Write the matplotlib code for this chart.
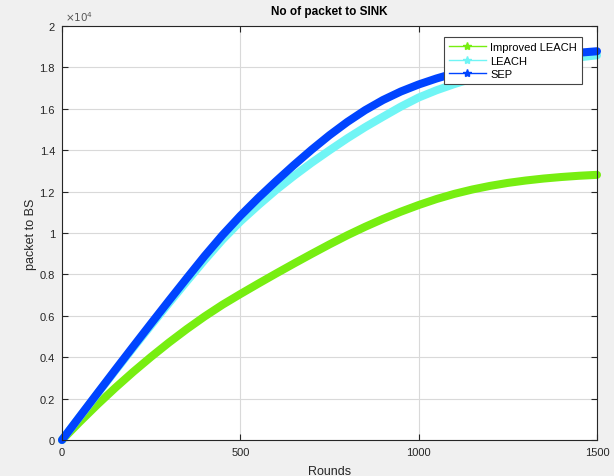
import matplotlib.pyplot as plt
from matplotlib.lines import Line2D
from matplotlib.ticker import FuncFormatter

plt.rcParams['font.family'] = ['Liberation Sans', 'DejaVu Sans']

# valeurs (tous les 50 rounds)
rounds = list(range(0, 1501, 50))
improved_leach = [0, 880, 1725, 2530, 3295, 4020, 4710, 5360, 5970, 6535, 7050,
                  7550, 8040, 8520, 8990, 9450, 9890, 10300, 10680, 11030, 11350,
                  11640, 11890, 12100, 12275, 12420, 12535, 12630, 12705, 12765, 12810]
leach = [0, 1130, 2250, 3360, 4460, 5545, 6615, 7665, 8695, 9675, 10555,
         11335, 12075, 12755, 13395, 13995, 14575, 15115, 15615, 16105, 16545,
         16895, 17195, 17460, 17695, 17900, 18080, 18235, 18370, 18485, 18585]
sep = [0, 1140, 2275, 3405, 4525, 5635, 6735, 7820, 8890, 9900, 10830,
       11690, 12500, 13280, 14025, 14725, 15365, 15935, 16425, 16835, 17175,
       17465, 17715, 17930, 18115, 18275, 18410, 18525, 18625, 18710, 18780]

noms = ['Improved LEACH', 'LEACH', 'SEP']
couleurs = ['#77EE11', '#70F5F5', '#0044FF']

fig = plt.figure(figsize=(6.14, 4.77), dpi=100, facecolor='#f0f0f0')
ax = fig.add_axes([62/614, 1-441/477, 535/614, 414/477])
ax.set_facecolor('white')

for y, c in zip([improved_leach, leach, sep], couleurs):
    ax.plot(rounds, y, color=c, lw=5.8, solid_capstyle='round',
            solid_joinstyle='round', clip_on=False)

ax.set_xlim(0, 1500)
ax.set_ylim(0, 20000)
ax.set_xticks([0, 500, 1000, 1500])
ax.set_yticks(range(0, 20001, 2000))
ax.yaxis.set_major_formatter(FuncFormatter(lambda v, p: '%g' % (v / 1e4)))
ax.grid(True, color='#d9d9d9', lw=0.8)
ax.set_axisbelow(True)

grisfonce = '#262626'
ax.tick_params(direction='in', length=4, width=0.8, colors=grisfonce,
               labelsize=8, top=True, right=True, pad=5)
for s in ax.spines.values():
    s.set_color(grisfonce)
    s.set_linewidth(0.8)

ax.set_title('No of packet to SINK', fontsize=8.5, fontweight='bold', pad=9)
ax.set_xlabel('Rounds', fontsize=9, color=grisfonce, labelpad=6)
ax.set_ylabel('packet to BS', fontsize=9, color=grisfonce, labelpad=2)
ax.text(0.005, 1.008, r'$\times 10^4$', transform=ax.transAxes, fontsize=7.5,
        color='#555555', ha='left', va='bottom')

poignees = [Line2D([0], [0], color=c, lw=1, marker='*', markersize=6) for c in couleurs]
leg = ax.legend(poignees, noms, loc='upper right', bbox_to_anchor=(0.972, 0.973),
                fontsize=8, fancybox=False, framealpha=1, edgecolor='#444444',
                borderpad=0.45, labelspacing=0.3, handlelength=3.4, handletextpad=0.35,
                borderaxespad=0)
leg.get_frame().set_linewidth(0.8)

plt.savefig('out.png', dpi=100, facecolor=fig.get_facecolor())
